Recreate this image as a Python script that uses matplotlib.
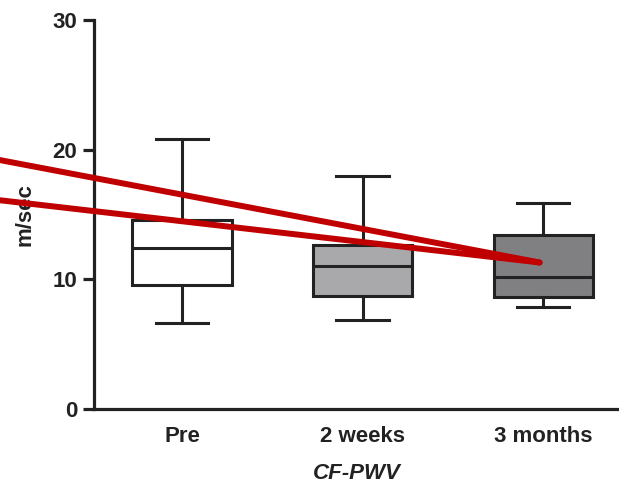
import matplotlib
matplotlib.use("Agg")
import matplotlib.pyplot as plt

# box statistics (m/sec)
groups = ["Pre", "2 weeks", "3 months"]
whisker_lo = [6.6, 6.85, 7.85]
q1 = [9.55, 8.7, 8.65]
medians = [12.4, 11.0, 10.2]
q3 = [14.6, 12.65, 13.4]
whisker_hi = [20.8, 18.0, 15.9]
box_colors = ["#ffffff", "#a9a9ab", "#808083"]

yticks = [0, 10, 20, 30]

# red pointer lines drawn over the figure (data coords)
pointer_start_x = [-0.01, -0.01]
pointer_start_y = [19.2, 16.1]
pointer_end = (2.98, 11.3)

plt.rcParams["font.family"] = ["Liberation Sans", "DejaVu Sans"]
plt.rcParams["font.weight"] = "bold"

fig = plt.figure(figsize=(6.19, 4.84), dpi=100)
ax = fig.add_axes([94 / 619, 1 - 409 / 484, 1 - 94 / 619, (409 - 20) / 484])

stats = []
for i, name in enumerate(groups):
    stats.append(dict(label=name, whislo=whisker_lo[i], q1=q1[i], med=medians[i],
                      q3=q3[i], whishi=whisker_hi[i], fliers=[]))

line_kw = dict(color="#222222", linewidth=2.2)
bp = ax.bxp(stats, positions=[1, 2, 3], widths=0.55, patch_artist=True,
            showfliers=False,
            boxprops=dict(edgecolor="#222222", linewidth=2.2),
            medianprops=line_kw, whiskerprops=line_kw,
            capprops=line_kw, capwidths=0.29)
for patch, c in zip(bp["boxes"], box_colors):
    patch.set_facecolor(c)

ax.set_xlim(0.512, 3.42)
ax.set_ylim(0, 30)
ax.set_yticks(yticks)
ax.set_xticks([1, 2, 3])
ax.set_xticklabels(groups)

for side in ("top", "right"):
    ax.spines[side].set_visible(False)
for side in ("left", "bottom"):
    ax.spines[side].set_linewidth(2.3)
    ax.spines[side].set_color("#222222")

ax.tick_params(axis="y", length=8, width=2.3, pad=4, labelsize=16,
               colors="#222222")
ax.tick_params(axis="x", length=0, pad=12, labelsize=16, colors="#222222")

ax.set_ylabel("m/sec", fontsize=16, fontweight="bold", color="#222222",
              labelpad=12)
ax.set_xlabel("CF-PWV", fontsize=16, fontweight="bold", style="italic",
              color="#222222", labelpad=12)

for sx, sy in zip(pointer_start_x, pointer_start_y):
    ax.plot([sx, pointer_end[0]], [sy, pointer_end[1]], color="#c00000",
            linewidth=4.3, solid_capstyle="round", clip_on=False, zorder=5)

fig.savefig("out.png", dpi=100)
